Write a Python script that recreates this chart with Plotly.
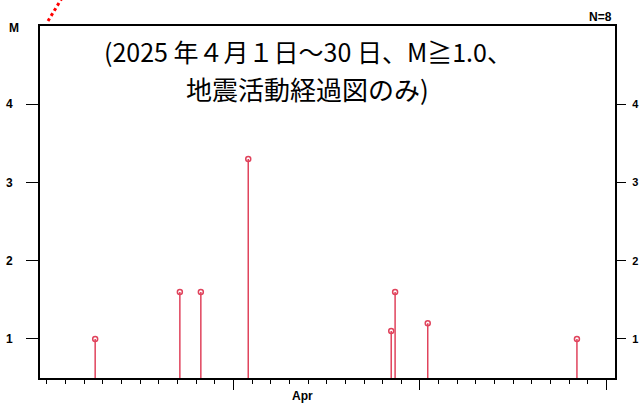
import plotly.graph_objects as go

# Event data
event_times = ["2025-04-03 14:00", "2025-04-08 03:00", "2025-04-09 06:00", "2025-04-11 19:00",
               "2025-04-19 11:00", "2025-04-19 16:00", "2025-04-21 10:00", "2025-04-29 10:00"]
magnitudes = [1.0, 1.6, 1.6, 3.3, 1.1, 1.6, 1.2, 1.0]
y_ticks = [1, 2, 3, 4]
x_major_ticks = ["2025-04-11", "2025-04-21", "2025-05-01"]

RED = "#e0435c"
W, H = 639, 405
L, R, T, B = 40, 24, 26, 27
pw, ph = W - L - R, H - T - B

fig = go.Figure()

# stems
sx, sy = [], []
for t, m in zip(event_times, magnitudes):
    sx += [t, t, None]
    sy += [0.5, m, None]
fig.add_trace(go.Scatter(x=sx, y=sy, mode="lines", line=dict(color=RED, width=1.5),
                         hoverinfo="skip", showlegend=False))
fig.add_trace(go.Scatter(x=event_times, y=magnitudes, mode="markers",
                         marker=dict(symbol="circle-open", size=5, color=RED, line=dict(width=1.5, color=RED)),
                         showlegend=False))
# invisible trace for right axis
fig.add_trace(go.Scatter(x=[event_times[0]], y=[magnitudes[0]], yaxis="y2", mode="markers",
                         marker=dict(opacity=0), hoverinfo="skip", showlegend=False))

fig.update_layout(
    width=W, height=H,
    margin=dict(l=L, r=R, t=T, b=B, pad=0, autoexpand=False),
    paper_bgcolor="white", plot_bgcolor="white",
    xaxis=dict(type="date", range=["2025-03-31 15:00", "2025-05-01 11:00"], showgrid=False,
               zeroline=False, showline=True, linecolor="black", linewidth=2, mirror=True,
               automargin=False, tickvals=x_major_ticks, ticktext=["", "", ""], ticks="outside",
               ticklen=10, tickcolor="black", tickwidth=1,
               minor=dict(dtick=86400000, tick0="2025-04-01", ticks="outside", ticklen=4,
                          tickcolor="black", tickwidth=1, showgrid=False)),
    yaxis=dict(range=[0.5, 5], showgrid=False, zeroline=False, showline=True, linecolor="black",
               linewidth=2, mirror=True, tickvals=y_ticks, ticks="outside", ticklen=12,
               tickcolor="black", tickwidth=1, ticklabelstandoff=11, automargin=False,
               tickfont=dict(family="Liberation Sans", size=12, color="black", weight="bold")),
    yaxis2=dict(range=[0.5, 5], overlaying="y", side="right", showgrid=False, zeroline=False,
                showline=False, tickvals=y_ticks, ticks="outside", ticklen=10, tickcolor="black",
                tickwidth=1, ticklabelstandoff=4, automargin=False,
                tickfont=dict(family="Liberation Sans", size=11, color="black", weight="bold")),
    font=dict(family="Noto Sans CJK JP"),
)

annos = [
    dict(text="(2025 年４月１日～30 日、M≧1.0、", x=(308 - L) / pw, y=(H - B - 51) / ph,
         font=dict(family="Noto Sans CJK JP", size=25, color="black")),
    dict(text="地震活動経過図のみ)", x=(307 - L) / pw, y=(H - B - 88) / ph,
         font=dict(family="Noto Sans CJK JP", size=26, color="black")),
    dict(text="M", x=(14 - L) / pw, y=(H - B - 28) / ph,
         font=dict(family="Liberation Sans", size=12, color="black", weight="bold")),
    dict(text="N=8", x=(600 - L) / pw, y=(H - B - 17) / ph,
         font=dict(family="Liberation Sans", size=12, color="black", weight="bold")),
    dict(text="Apr", x=(302 - L) / pw, y=(H - B - 396) / ph,
         font=dict(family="Liberation Sans", size=12, color="black", weight="bold")),
]
for a in annos:
    fig.add_annotation(xref="paper", yref="paper", showarrow=False, xanchor="center",
                       yanchor="middle", **a)

# red dotted decoration at top-left
fig.add_shape(type="line", xref="paper", yref="paper",
              x0=(48 - L) / pw, y0=(H - B - 21) / ph, x1=(62 - L) / pw, y1=(H - B + 2) / ph,
              line=dict(color="red", width=3, dash="dot"))

fig.write_html("out.html", config={"displayModeBar": False},
               post_script="document.body.style.margin='0';document.body.style.overflow='hidden';")
